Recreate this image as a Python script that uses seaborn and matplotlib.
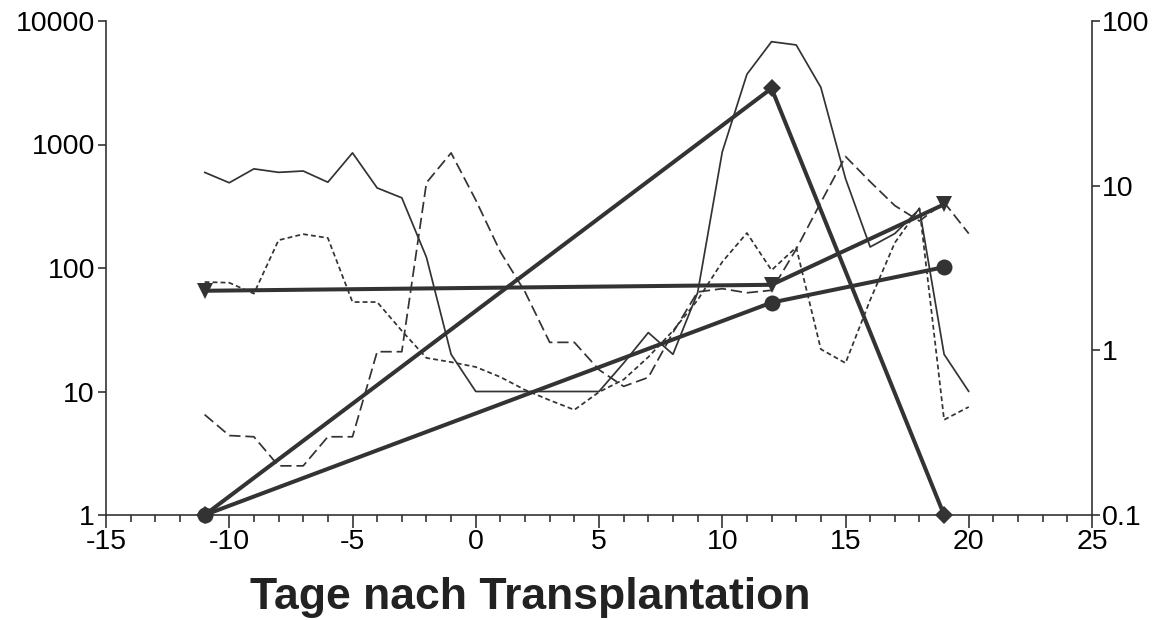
import matplotlib
matplotlib.use("Agg")
import matplotlib.pyplot as plt
from matplotlib.ticker import FixedLocator, FixedFormatter, MultipleLocator, NullLocator
import numpy as np
import pandas as pd
import seaborn as sns

# Days after transplantation for the daily series
days = list(range(-11, 21))

# Daily series on the left (log) axis
solid_vals = [595, 490, 635, 595, 610, 495, 855, 445, 370, 122, 20, 10,
              10, 10, 10, 10, 10, 17, 30, 20, 63, 870, 3700, 6800,
              6400, 2900, 530, 148, 190, 300, 20, 10]
longdash_vals = [6.5, 4.4, 4.3, 2.5, 2.5, 4.3, 4.3, 21, 21, 490, 855, 355,
                 135, 64, 25, 25, 15, 11, 13, 30, 64, 68, 63, 66,
                 142, 340, 800, 500, 320, 240, 340, 190]
shortdash_vals = [77, 76, 62, 168, 188, 175, 53, 53, 31, 18.7, 17.3, 15.8,
                  13.1, 10.3, 8.5, 7.1, 9.9, 12.5, 19, 31, 55, 112, 192, 96,
                  147, 22, 17, 55, 160, 305, 5.9, 7.5]

# Sparse measurements on the right (log) axis
marker_days = [-11, 12, 19]
diamond_vals = [0.1, 39, 0.1]
circle_vals = [0.1, 1.95, 3.2]
triangle_vals = [2.3, 2.5, 7.7]

left_ticks = [1, 10, 100, 1000, 10000]
left_labels = ["1", "10", "100", "1000", "10000"]
right_ticks = [0.1, 1, 10, 100]
right_labels = ["0.1", "1", "10", "100"]
x_label = "Tage nach Transplantation"

sns.set_theme(style="white")
plt.rcParams["font.family"] = ["Liberation Sans", "DejaVu Sans"]
plt.rcParams["axes.unicode_minus"] = False

INK = "#333333"

daily = pd.DataFrame({
    "day": days * 3,
    "value": solid_vals + longdash_vals + shortdash_vals,
    "series": ["solid"] * len(days) + ["long"] * len(days) + ["short"] * len(days),
})

fig = plt.figure(figsize=(11.66, 6.2), dpi=100)
ax = fig.add_axes([106 / 1166, 1 - 515 / 620, (1092 - 106) / 1166, (515 - 21) / 620])

sns.lineplot(data=daily, x="day", y="value", style="series",
             dashes={"solid": "", "long": (6.5, 2.8), "short": (2.8, 1.8)},
             color=INK, linewidth=1.25, legend=False, ax=ax, sort=False)

ax.set_yscale("log")
ax.set_ylim(1, 10000)
ax.set_xlim(-15, 25)
ax.yaxis.set_major_locator(FixedLocator(left_ticks))
ax.yaxis.set_major_formatter(FixedFormatter(left_labels))
ax.yaxis.set_minor_locator(NullLocator())
ax.xaxis.set_major_locator(MultipleLocator(5))
ax.xaxis.set_minor_locator(MultipleLocator(1))

ax2 = ax.twinx()
ax2.set_yscale("log")
ax2.set_ylim(0.1, 100)

marked = [
    (diamond_vals, "D", 9),
    (circle_vals, "o", 11.5),
    (triangle_vals, "v", 12),
]
for vals, mk, ms in marked:
    sns.lineplot(x=marker_days, y=vals, ax=ax2, color=INK, linewidth=2.9,
                 marker=mk, markersize=ms, markeredgewidth=0, legend=False,
                 clip_on=False)

ax2.yaxis.set_major_locator(FixedLocator(right_ticks))
ax2.yaxis.set_major_formatter(FixedFormatter(right_labels))
ax2.yaxis.set_minor_locator(NullLocator())
ax2.set_xlim(-15, 25)

for a in (ax, ax2):
    for s in a.spines.values():
        s.set_color(INK)
        s.set_linewidth(1.2)
    a.spines["top"].set_visible(False)
    a.set_ylabel("")
    a.grid(False)
ax.spines["right"].set_visible(False)
ax2.spines["left"].set_visible(False)
ax2.spines["bottom"].set_visible(False)

ax.tick_params(axis="x", which="major", direction="out", length=9, width=1.2,
               color=INK, labelsize=20.5, labelcolor="black", pad=1, bottom=True)
ax.tick_params(axis="x", which="minor", direction="out", length=5, width=1.2,
               color=INK, bottom=True)
ax.tick_params(axis="y", which="major", direction="out", length=6, width=1.2,
               color=INK, labelsize=20.5, labelcolor="black", pad=2, left=True)
ax2.tick_params(axis="y", which="major", direction="out", length=6, width=1.2,
                color=INK, labelsize=20.5, labelcolor="black", pad=1, right=True)

ax.set_xlabel(x_label, fontsize=32, fontweight="bold", color="#222222",
              va="center", ha="center")
ax.xaxis.set_label_coords((530 - 106) / 986, (515 - 598) / 494)
ax2.set_xlabel("")

fig.savefig("out.png", dpi=100, facecolor="white")
